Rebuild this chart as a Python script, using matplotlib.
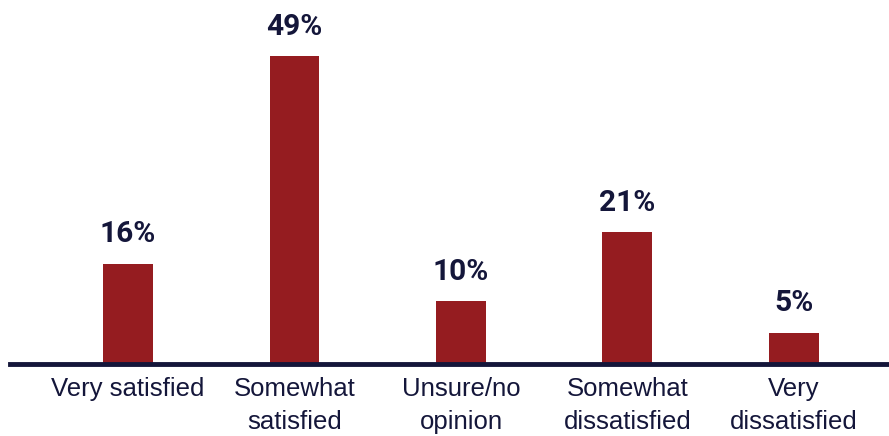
import matplotlib
matplotlib.use("Agg")
import matplotlib.pyplot as plt

categories = ["Very satisfied", "Somewhat\nsatisfied", "Unsure/no\nopinion",
              "Somewhat\ndissatisfied", "Very\ndissatisfied"]
values = [16, 49, 10, 21, 5]
labels = ["16%", "49%", "10%", "21%", "5%"]

bar_color = "#951c20"
ink = "#14163a"

fig = plt.figure(figsize=(8.89, 4.36), dpi=100)
ax = fig.add_axes([10/889, 1 - 364/436, 879/889, 364/436])

x = list(range(len(values)))
ax.bar(x, values, width=0.30, color=bar_color, zorder=2)

# value labels over the bars
for xi, v, lab in zip(x, values, labels):
    ax.annotate(lab, (xi, v), xytext=(0, 11), textcoords="offset points",
                ha="center", va="bottom", fontsize=21.5, fontweight="bold",
                color=ink, family=["Roboto", "DejaVu Sans"])

ax.set_xlim(-0.709, 4.571)
ax.set_ylim(0, 58)
ax.axhline(0, color=ink, lw=3.5, zorder=3, clip_on=False)

for s in ax.spines.values():
    s.set_visible(False)
ax.set_yticks([])
ax.set_xticks(x)
ax.set_xticklabels(categories, fontsize=18.5, color=ink,
                   family=["Liberation Sans", "DejaVu Sans"], linespacing=1.5)
ax.tick_params(axis="x", length=0, pad=9)

fig.savefig("out.png", dpi=100)
